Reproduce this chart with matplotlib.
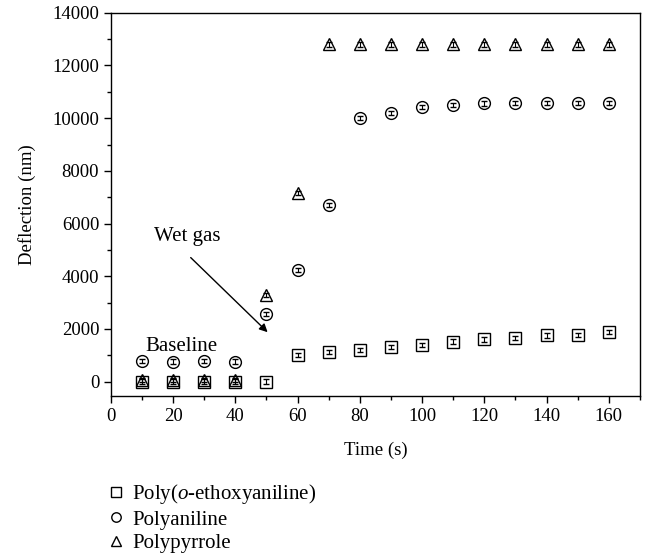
import matplotlib.pyplot as plt
from matplotlib.ticker import MultipleLocator

plt.rcParams['font.family'] = ['Liberation Serif', 'DejaVu Serif']
plt.rcParams['font.size'] = 13
plt.rcParams['mathtext.fontset'] = 'custom'
plt.rcParams['mathtext.it'] = 'Liberation Serif:italic'

# data
time = [10, 20, 30, 40, 50, 60, 70, 80, 90, 100, 110, 120, 130, 140, 150, 160]
poea = [0, 0, 0, 0, 0, 1000, 1130, 1200, 1300, 1400, 1520, 1600, 1650, 1750, 1780, 1870]
pani = [780, 760, 780, 760, 2550, 4230, 6700, 10000, 10200, 10420, 10500, 10560, 10580, 10590, 10590, 10590]
ppy = [50, 50, 50, 50, 3300, 7150, 12800, 12800, 12800, 12800, 12800, 12800, 12800, 12800, 12800, 12800]
err = 80
labels = ['Poly($o$-ethoxyaniline)', 'Polyaniline', 'Polypyrrole']

fig = plt.figure(figsize=(6.45, 5.57), dpi=100)
ax = fig.add_axes([0.172, 0.289, 0.82, 0.688])

for y, m, lab in zip([poea, pani, ppy], ['s', 'o', '^'], labels):
    ax.errorbar(time, y, yerr=err, fmt=m, ms=8.5, mfc='none', mec='black',
                mew=1.0, ecolor='black', elinewidth=0.8, capsize=2.5, capthick=0.8,
                label=lab)

ax.set_xlim(0, 170)
ax.set_ylim(-550, 14000)
ax.xaxis.set_major_locator(MultipleLocator(20))
ax.xaxis.set_minor_locator(MultipleLocator(10))
ax.yaxis.set_major_locator(MultipleLocator(2000))
ax.yaxis.set_minor_locator(MultipleLocator(1000))
ax.tick_params(which='major', direction='out', length=5, width=1, labelsize=13.5)
ax.tick_params(which='minor', direction='out', length=3, width=1)
for s in ax.spines.values():
    s.set_linewidth(1)

ax.set_xlabel('Time (s)', fontsize=13.5, labelpad=12)
ax.set_ylabel('Deflection (nm)', fontsize=13.5, labelpad=12)

ax.text(14, 5500, 'Wet gas', ha='left', va='center', fontsize=15)
ax.annotate('', xy=(51, 1800), xytext=(25, 4780),
            arrowprops=dict(arrowstyle='-|>', color='black', lw=1, mutation_scale=12))
ax.text(11, 1330, 'Baseline', ha='left', va='center', fontsize=15)

h, l = ax.get_legend_handles_labels()
h = [hh[0] for hh in h]
fig.legend(h, l, loc='upper left', bbox_to_anchor=(0.163, 0.135), frameon=False,
           fontsize=15, markerscale=0.8, handlelength=1.0, handletextpad=0.3,
           labelspacing=0.2, borderaxespad=0, borderpad=0)

fig.savefig('out.png', dpi=100)
